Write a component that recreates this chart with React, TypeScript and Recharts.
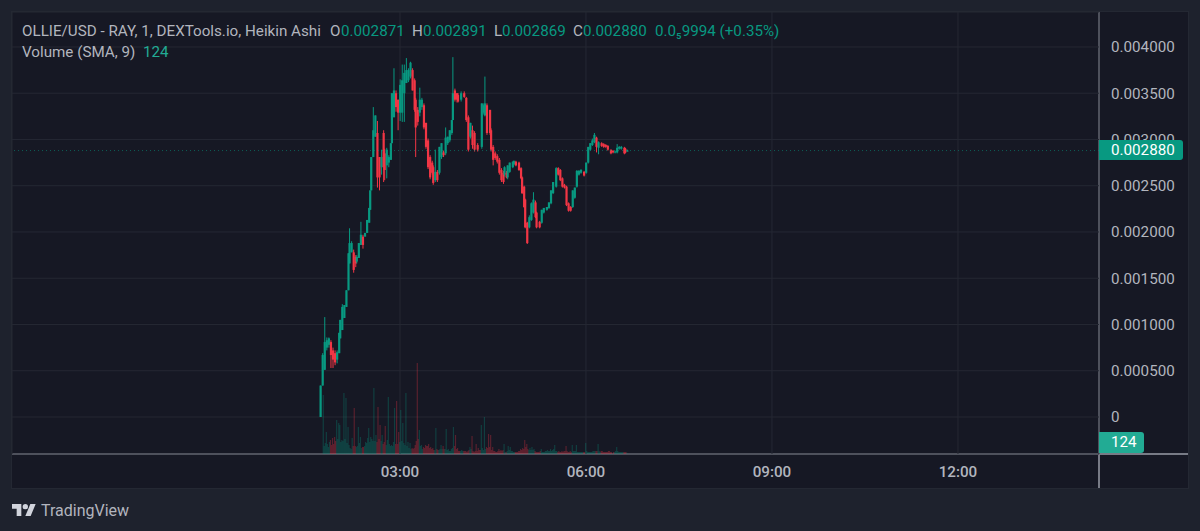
import { Bar, CartesianGrid, ComposedChart, ReferenceLine, XAxis, YAxis } from 'recharts';

// chart minutes since 00:00, prices are in units of 0.00001 USD
const candleMinutes = [
  103, 105, 107, 109, 111, 113, 115, 117, 119, 121, 122, 124, 126, 128, 130, 131, 133, 135, 137, 138,
  140, 142, 144, 146, 148, 150, 151, 152, 154, 156, 158, 160, 162, 164, 165, 167, 169, 171, 172, 174,
  176, 178, 180, 182, 184, 186, 188, 190, 192, 194, 195, 197, 199, 201, 203, 205, 207, 209, 211, 212,
  214, 216, 218, 220, 222, 224, 226, 228, 230, 231, 233, 235, 236, 239, 242, 244, 246, 248, 250, 252,
  255, 259, 261, 262, 264, 267, 268, 270, 272, 274, 276, 278, 280, 281, 283, 284, 286, 289, 290, 292,
  295, 297, 298, 300, 301, 303, 305, 307, 309, 311, 312, 315, 317, 319, 322, 324, 326, 328, 331, 333,
  335, 337, 339, 341, 343, 345, 347, 349, 351, 353, 355, 358, 360, 362, 364, 366, 368, 370, 372, 375,
  377, 379, 381, 384, 386, 388, 390, 392, 394, 397, 398, 400
];
const opens = [
  0, 34, 51, 75, 78, 81, 72, 69, 62, 69, 85, 94, 107, 119, 137, 166, 178, 178, 173, 168,
  172, 186, 195, 195, 199, 210, 224, 245, 281, 303, 307, 281, 270, 307, 285, 272, 275, 278, 296, 324,
  350, 343, 329, 329, 350, 361, 364, 368, 375, 364, 343, 332, 329, 335, 337, 318, 299, 281, 275, 270,
  256, 265, 264, 281, 286, 285, 296, 299, 307, 321, 353, 350, 348, 343, 350, 345, 324, 303, 310, 307,
  294, 292, 329, 326, 337, 332, 310, 292, 285, 282, 278, 267, 264, 262, 264, 259, 265, 270, 273, 276,
  275, 269, 259, 249, 235, 210, 205, 213, 221, 232, 221, 211, 210, 221, 224, 226, 231, 242, 249, 269,
  267, 258, 251, 249, 231, 227, 227, 237, 249, 262, 264, 265, 264, 275, 289, 294, 297, 302, 291, 296,
  295, 294, 293, 289, 288, 286, 286, 290, 290, 291, 290, 287
];
const highs = [
  34, 69, 108, 86, 86, 83, 75, 72, 72, 91, 105, 122, 121, 137, 177, 204, 190, 181, 175, 175,
  188, 211, 197, 199, 213, 226, 245, 281, 335, 326, 320, 281, 289, 310, 290, 291, 283, 296, 350, 377,
  353, 343, 365, 381, 381, 388, 377, 384, 377, 366, 345, 335, 356, 345, 339, 318, 301, 283, 277, 272,
  289, 267, 292, 296, 288, 313, 303, 310, 321, 389, 355, 350, 350, 352, 352, 346, 326, 318, 315, 309,
  296, 339, 339, 368, 339, 332, 312, 294, 287, 284, 280, 269, 266, 271, 266, 272, 275, 276, 277, 277,
  276, 270, 260, 250, 236, 211, 218, 232, 243, 234, 222, 212, 224, 226, 227, 232, 245, 254, 270, 270,
  268, 259, 252, 250, 232, 228, 245, 248, 267, 267, 268, 266, 275, 292, 296, 301, 307, 303, 298, 297,
  296, 295, 294, 289, 288, 288, 295, 293, 293, 292, 291, 289
];
const lows = [
  0, 34, 51, 72, 75, 53, 53, 56, 58, 69, 85, 94, 107, 119, 137, 166, 178, 156, 162, 166,
  172, 186, 182, 195, 199, 210, 224, 245, 281, 303, 248, 245, 262, 254, 256, 258, 270, 278, 296, 324,
  330, 310, 320, 319, 319, 361, 362, 366, 353, 330, 281, 315, 325, 332, 311, 290, 268, 257, 262, 251,
  254, 254, 262, 279, 281, 283, 294, 297, 305, 321, 341, 340, 340, 341, 345, 319, 287, 301, 290, 287,
  287, 290, 327, 325, 305, 305, 287, 272, 278, 274, 262, 254, 252, 260, 258, 257, 264, 269, 272, 271,
  266, 257, 241, 226, 204, 187, 204, 212, 220, 215, 204, 204, 209, 220, 223, 225, 230, 241, 248, 261,
  255, 248, 247, 228, 222, 222, 226, 236, 248, 261, 263, 260, 263, 274, 288, 293, 296, 286, 284, 292,
  291, 291, 288, 284, 285, 285, 285, 289, 289, 284, 285, 287
];
const closes = [
  34, 67, 81, 83, 85, 67, 62, 59, 70, 91, 105, 119, 121, 137, 177, 188, 188, 159, 166, 173,
  188, 197, 186, 199, 213, 226, 245, 281, 310, 326, 259, 259, 281, 270, 267, 289, 281, 296, 350, 353,
  335, 329, 359, 364, 372, 375, 375, 383, 353, 332, 313, 319, 343, 343, 313, 292, 270, 259, 264, 253,
  265, 256, 292, 296, 283, 302, 303, 310, 321, 350, 343, 343, 341, 350, 346, 321, 289, 318, 294, 289,
  289, 339, 337, 339, 307, 307, 289, 278, 280, 276, 264, 256, 254, 270, 259, 272, 275, 276, 277, 272,
  267, 258, 242, 227, 205, 188, 216, 231, 235, 216, 205, 205, 224, 226, 227, 232, 245, 254, 269, 262,
  256, 249, 248, 229, 223, 223, 245, 248, 266, 266, 267, 261, 275, 292, 296, 299, 305, 292, 297, 293,
  292, 292, 289, 285, 286, 287, 291, 292, 292, 285, 286, 288
];

// the volume spikes
const volumeMinutes = [
  106, 109, 113, 115, 117, 119, 121, 122, 124, 126, 128, 130, 132, 134, 136, 138, 140, 142, 144, 147,
  149, 150, 152, 155, 157, 159, 161, 163, 166, 168, 169, 172, 175, 177, 179, 181, 183, 184, 186, 188,
  190, 192, 195, 197, 199, 201, 203, 205, 208, 210, 212, 215, 218, 220, 222, 225, 227, 229, 232, 234,
  236, 240, 245, 248, 250, 252, 254, 256, 259, 260, 262, 264, 266, 268, 270, 272, 276, 278, 281, 282,
  285, 287, 289, 291, 295, 297, 299, 301, 303, 306, 308, 310, 313, 317, 319, 323, 326, 330, 334, 337,
  341, 344, 347, 351, 354, 358, 360, 364, 367, 372, 376, 382, 390, 397, 400
];
const volumes = [
  5900, 2200, 1400, 1600, 1700, 3400, 3100, 2900, 1400, 6100, 5600, 2700, 600, 1600, 4600, 700, 2700, 1700, 700, 1200,
  1600, 2600, 1700, 6600, 1900, 4700, 2900, 1900, 2800, 1400, 5700, 900, 4600, 5300, 2200, 4400, 3100, 1100, 6100, 1200,
  1100, 600, 900, 9100, 2400, 900, 700, 900, 1000, 700, 600, 2600, 400, 900, 800, 2500, 500, 300, 2700, 1900,
  600, 400, 200, 700, 1800, 200, 1000, 600, 2900, 600, 3700, 700, 2000, 1900, 700, 300, 500, 400, 1000, 200,
  800, 700, 300, 200, 300, 500, 600, 1400, 1000, 600, 700, 500, 200, 500, 200, 400, 500, 900, 300, 300,
  800, 200, 900, 900, 200, 200, 1100, 200, 300, 1000, 300, 300, 700, 200, 124
];
// the low bars between the spikes
const quietMinutes = [
  107, 108, 110, 111, 112, 114, 116, 118, 120, 123, 125, 127, 129, 131, 133, 135, 137, 139, 141, 143,
  145, 146, 148, 151, 153, 154, 156, 158, 160, 162, 164, 165, 167, 170, 171, 173, 174, 176, 178, 180,
  182, 185, 187, 189, 191, 193, 194, 196, 198, 200, 202, 204, 206, 207, 209, 211, 213, 214, 216, 217,
  219, 221, 223, 224, 226, 228, 230, 231, 233, 235, 237, 238, 239, 241, 242, 243, 244, 246, 247, 249,
  251, 253, 255, 257, 258, 261, 263, 265, 267, 269, 271, 273, 274, 275, 277, 279, 280, 283, 284, 286,
  288, 290, 292, 293, 294, 296, 298, 300, 302, 304, 305, 307, 309, 311, 312, 314, 315, 316, 318, 320,
  321, 322, 324, 325, 327, 328, 329, 331, 332, 333, 335, 336, 338, 339, 340, 342, 343, 345, 346, 348,
  349, 350, 352, 353, 355, 356, 357, 359, 361, 362, 363, 365, 366, 368, 369, 370, 371, 373, 374, 375,
  377, 378, 379, 380, 381, 383, 384, 385, 387, 388, 389, 391, 392, 393, 394, 395, 396, 398, 399
];
const quietVolumes = [
  800, 1100, 1000, 700, 1200, 900, 1000, 1300, 1500, 1200, 1300, 1500, 1100, 900, 500, 800, 800, 800, 1100, 600,
  700, 800, 1100, 1200, 1500, 1300, 1300, 1200, 1500, 1300, 1000, 1200, 900, 1000, 800, 800, 1200, 1000, 1000, 1200,
  1300, 900, 800, 600, 500, 500, 600, 1300, 1500, 800, 500, 600, 800, 800, 600, 500, 400, 400, 500, 400,
  500, 500, 500, 500, 400, 300, 500, 600, 800, 500, 300, 300, 300, 300, 300, 300, 300, 300, 400, 500,
  300, 300, 300, 400, 400, 400, 500, 600, 700, 400, 300, 200, 200, 300, 300, 300, 400, 200, 300, 400,
  300, 200, 200, 200, 200, 300, 400, 500, 700, 500, 400, 400, 400, 300, 200, 200, 200, 300, 200, 200,
  300, 300, 300, 300, 300, 400, 500, 300, 300, 200, 200, 200, 200, 300, 300, 300, 200, 300, 200, 300,
  300, 300, 200, 200, 200, 200, 200, 200, 300, 200, 200, 200, 200, 300, 300, 300, 300, 300, 200, 300,
  200, 200, 200, 200, 200, 300, 200, 200, 200, 200, 300, 300, 200, 200, 200, 200, 200, 200, 200
];

const priceTicks = [0, 0.0005, 0.001, 0.0015, 0.002, 0.0025, 0.003, 0.0035, 0.004];
const timeTicks = [180, 360, 540, 720];
const lastPrice = 0.00288;
const lastVolume = 124;

const UP = '#089981';
const DOWN = '#f23645';
const GRID = '#252833';
const AXIS_LINE = '#787b86';
const TEXT = '#b2b5be';
const FONT = 'Roboto, sans-serif';
const FONT_SIZE = 15.2;

const candleByMinute = new Map<number, any>();
candleMinutes.forEach((minute, i) => {
  const open = opens[i] / 1e5;
  const close = closes[i] / 1e5;
  candleByMinute.set(minute, {
    range: [lows[i] / 1e5, highs[i] / 1e5],
    open,
    high: highs[i] / 1e5,
    low: lows[i] / 1e5,
    close
  });
});
const volumeByMinute = new Map<number, number>();
quietMinutes.forEach((m, i) => volumeByMinute.set(m, quietVolumes[i]));
volumeMinutes.forEach((m, i) => volumeByMinute.set(m, volumes[i]));
const allMinutes = [...new Set([...candleMinutes, ...volumeByMinute.keys()])].sort((a, b) => a - b);

let lastUp = true;
const data = allMinutes.map(minute => {
  const candle = candleByMinute.get(minute);
  if (candle) lastUp = candle.close >= candle.open;
  return { minute, ...candle, volume: volumeByMinute.get(minute), up: lastUp };
});

function CandleShape(props: any) {
  const { x, y, width, height, payload } = props;
  if (payload.open === undefined) return null;
  const { open, high, low, close } = payload;
  const color = close >= open ? UP : DOWN;
  const perPrice = high > low ? height / (high - low) : 0;
  const top = y + (high - Math.max(open, close)) * perPrice;
  const bodyHeight = Math.max(Math.abs(open - close) * perPrice, 1);
  const cx = x + width / 2;
  return (
    <g>
      <rect x={cx - 0.5} y={y} width={1} height={height} fill={color} />
      <rect x={cx - 1.1} y={top} width={2.2} height={bodyHeight} fill={color} />
    </g>
  );
}

function VolumeShape(props: any) {
  const { x, y, width, height, payload } = props;
  if (payload.volume === undefined) return null;
  return (
    <rect
      x={x + width / 2 - 0.6}
      y={y}
      width={1.2}
      height={height}
      fill={payload.up ? UP : DOWN}
      fillOpacity={0.3}
    />
  );
}

// sits over the axis labels, like the last value tags on the price scale
function Badge({ top, width, height, color, text }: any) {
  return (
    <div
      style={{
        position: 'absolute',
        left: 1099,
        top,
        width: width - 12,
        height,
        paddingLeft: 12,
        background: color,
        borderRadius: '0 3px 3px 0',
        color: '#ffffff',
        lineHeight: `${height}px`
      }}
    >
      {text}
    </div>
  );
}

function Legend({ x, y, color = TEXT, children }: any) {
  return (
    <span style={{ position: 'absolute', left: x, top: y, color, whiteSpace: 'nowrap', lineHeight: '18px' }}>
      {children}
    </span>
  );
}

export default function App() {
  return (
    <div
      style={{
        position: 'absolute',
        left: 0,
        top: 0,
        width: 1200,
        height: 531,
        overflow: 'hidden',
        background: '#1e222d',
        fontFamily: FONT,
        fontSize: FONT_SIZE
      }}
    >
      <div
        style={{
          position: 'absolute',
          left: 12,
          top: 12,
          width: 1176,
          height: 476,
          background: '#161824',
          outline: '1px solid #242833'
        }}
      />
      <div style={{ position: 'absolute', left: 1098, top: 12, width: 2, height: 476, background: AXIS_LINE }} />
      <div style={{ position: 'absolute', left: 12, top: 453, width: 1176, height: 2, background: AXIS_LINE }} />
      <ComposedChart
        width={1200}
        height={531}
        data={data}
        margin={{ top: 12, right: 12, bottom: 43, left: 12 }}
        style={{ position: 'absolute', left: 0, top: 0 }}
      >
        <CartesianGrid yAxisId="price" stroke={GRID} />
        <XAxis
          dataKey="minute"
          type="number"
          domain={[-195.5, 856.5]}
          allowDataOverflow
          ticks={timeTicks}
          height={34}
          axisLine={false}
          tickLine={false}
          tickMargin={6}
          tick={{ fill: TEXT, fontSize: FONT_SIZE, fontFamily: FONT, fontWeight: 500 }}
          tickFormatter={(m: number) => `${String(m / 60).padStart(2, '0')}:00`}
        />
        <YAxis
          yAxisId="price"
          orientation="right"
          width={89}
          domain={[-0.0004, 0.004378]}
          allowDataOverflow
          ticks={priceTicks}
          interval={0}
          axisLine={false}
          tickLine={false}
          tickMargin={6}
          tick={{ fill: TEXT, fontSize: FONT_SIZE, fontFamily: FONT }}
          tickFormatter={(v: number) => (v === 0 ? '0' : v.toFixed(6))}
        />
        <YAxis yAxisId="volume" hide domain={[0, 44200]} allowDataOverflow />
        <Bar
          yAxisId="volume"
          dataKey="volume"
          barSize={2}
          shape={VolumeShape}
          isAnimationActive={false}
        />
        <Bar
          yAxisId="price"
          dataKey="range"
          barSize={2}
          shape={CandleShape}
          isAnimationActive={false}
        />
        <ReferenceLine
          yAxisId="price"
          y={lastPrice}
          stroke={UP}
          strokeDasharray="1 3"
          strokeOpacity={0.55}
        />
      </ComposedChart>

      <Badge top={140} width={84} height={20} color={UP} text={lastPrice.toFixed(6)} />
      <Badge top={432} width={45} height={21} color="#22ab94" text={String(lastVolume)} />

      <Legend x={22} y={22}>OLLIE/USD - RAY, 1, DEXTools.io, Heikin Ashi</Legend>
      <Legend x={330} y={22}>O</Legend>
      <Legend x={341} y={22} color={UP}>0.002871</Legend>
      <Legend x={412} y={22}>H</Legend>
      <Legend x={423} y={22} color={UP}>0.002891</Legend>
      <Legend x={494} y={22}>L</Legend>
      <Legend x={502} y={22} color={UP}>0.002869</Legend>
      <Legend x={573} y={22}>C</Legend>
      <Legend x={583} y={22} color={UP}>0.002880</Legend>
      <Legend x={655} y={22} color={UP}>0.0₅9994 (+0.35%)</Legend>
      <Legend x={22} y={43}>Volume (SMA, 9)</Legend>
      <Legend x={143} y={43} color="#22ab94">124</Legend>

      <svg
        viewBox="0 4 36 18"
        width={24}
        height={12}
        style={{ position: 'absolute', left: 12, top: 504 }}
      >
        <path d="M14 22H7V11H0V4h14v18zM28 22h-8l7.5-18h8L28 22z" fill="#d1d4dc" />
        <circle cx={20} cy={8} r={4} fill="#d1d4dc" />
      </svg>
      <span style={{ position: 'absolute', left: 41, top: 501, color: TEXT, fontSize: 16, lineHeight: '20px' }}>
        TradingView
      </span>
    </div>
  );
}
